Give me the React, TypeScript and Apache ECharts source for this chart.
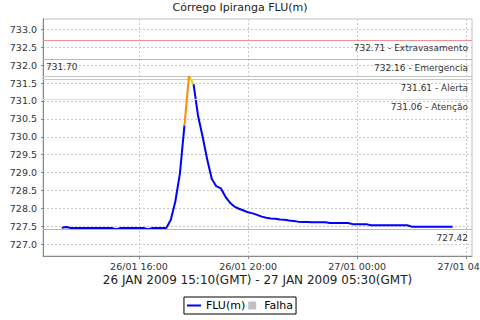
import { useEffect, useRef } from "react";
import * as echarts from "echarts";

// ---- data ----
const startHour = 13 + 10 / 60; // 26/01 13:10 local (15:10 GMT)
const stepHours = 10 / 60;
const fluValues = [
  727.46, 727.48, 727.45, 727.45, 727.45, 727.45, 727.45, 727.45, 727.45, 727.45,
  727.45, 727.45, 727.42, 727.45, 727.45, 727.45, 727.45, 727.45, 727.45, 727.42,
  727.45, 727.45, 727.45, 727.45,
  727.68, 728.2, 728.97, 730.32, 731.7, 731.47, 730.58, 730.0, 729.37, 728.83,
  728.62, 728.56, 728.33, 728.16, 728.05, 727.99, 727.94, 727.89, 727.86, 727.82,
  727.77, 727.74, 727.72, 727.71, 727.69, 727.68, 727.66, 727.65, 727.63,
  727.62, 727.62, 727.61, 727.61, 727.61, 727.61,
  727.59, 727.59, 727.59, 727.59, 727.59,
  727.56, 727.56, 727.56, 727.56,
  727.53, 727.53, 727.53, 727.53, 727.53, 727.53, 727.53, 727.53, 727.53,
  727.49, 727.49, 727.49, 727.49, 727.49, 727.49, 727.49, 727.49, 727.49, 727.49,
];
const thresholdValues = [731.06, 731.61, 732.16, 732.71];
const thresholdNames = ["Atenção", "Alerta", "Emergencia", "Extravasamento"];
const thresholdLineColors = ["#f7e77a", "#f5bf8a", "#ee90ee", "#f09090"];
const levelColors = ["#0000ff", "#f0d000", "#ff8c00", "#e040e0", "#ff0000"];
const xTickHours = [16, 20, 24, 28];
const xTickLabels = ["26/01 16:00", "26/01 20:00", "27/01 00:00", "27/01 04:00"];
const yTickValues = [
  727.0, 727.5, 728.0, 728.5, 729.0, 729.5, 730.0, 730.5, 731.0, 731.5, 732.0, 732.5, 733.0,
];
const titleText = "Córrego Ipiranga FLU(m)";
const periodText = "26 JAN 2009 15:10(GMT) - 27 JAN 2009 05:30(GMT)";
const seriesName = "FLU(m)";
const failName = "Falha";

const FONT = "DejaVu Sans";

function levelOf(v: number) {
  let l = 0;
  for (const t of thresholdValues) if (v >= t) l++;
  return l;
}

export default function App() {
  const ref = useRef<HTMLDivElement>(null);
  useEffect(() => {
    if (!ref.current) return;
    const chart = echarts.init(ref.current, undefined, { renderer: "svg" });
    const xs = fluValues.map((_, i) => startHour + i * stepHours);
    const maxV = Math.max(...fluValues);
    const minV = Math.min(...fluValues);
    // segment levels: colour of segment i->i+1 by its end value
    const segLevel = fluValues.slice(1).map((v) => levelOf(v));
    const levelSeries: any[] = [];
    const levelsPresent = Array.from(new Set(segLevel)).sort();
    levelsPresent.forEach((L) => {
      const data = fluValues.map((v, i) => {
        const inPrev = i > 0 && segLevel[i - 1] === L;
        const inNext = i < segLevel.length && segLevel[i] === L;
        return [xs[i], inPrev || inNext ? v : "-"];
      });
      levelSeries.push({
        name: L === 0 ? seriesName : seriesName + " " + L,
        type: "line",
        data,
        symbol: "none",
        showSymbol: false,
        connectNulls: false,
        color: levelColors[L],
        lineStyle: { width: 2, color: levelColors[L] },
        z: 3 + L,
        animation: false,
        ...(L === 0
          ? {
              markLine: {
                silent: true,
                symbol: ["none", "none"],
                animation: false,
                label: {
                  fontFamily: FONT,
                  fontSize: 9,
                  color: "#333",
                },
                data: [
                  ...thresholdValues.map((t, k) => ({
                    yAxis: t,
                    lineStyle: { color: thresholdLineColors[k], type: "solid", width: 1 },
                    label: {
                      position: "insideEndBottom",
                      distance: [4, 4],
                      formatter: `${t.toFixed(2)} - ${thresholdNames[k]}`,
                    },
                  })),
                  {
                    yAxis: maxV,
                    lineStyle: { color: "#c0c8c0", type: "solid", width: 1 },
                    label: {
                      position: "insideStartTop",
                      distance: [3, 4],
                      formatter: maxV.toFixed(2),
                    },
                  },
                  {
                    yAxis: minV,
                    lineStyle: { color: "#b8b8b8", type: "solid", width: 1 },
                    label: {
                      position: "insideEndBottom",
                      distance: [4, 4],
                      formatter: minV.toFixed(2),
                    },
                  },
                ],
              },
            }
          : {}),
      });
    });

    chart.setOption({
      animation: false,
      backgroundColor: "#ffffff",
      textStyle: { fontFamily: FONT },
      title: {
        text: titleText,
        left: "center",
        top: 2,
        padding: 0,
        textStyle: { fontFamily: FONT, fontSize: 11, fontWeight: "normal", color: "#222" },
      },
      legend: {
        data: [
          { name: seriesName, icon: "path://M0 4H14V6H0Z" },
          { name: failName, icon: "path://M0 0H10V10H0Z" },
        ],
        top: 297,
        left: "center",
        itemWidth: 14,
        itemHeight: 8,
        itemGap: 3,
        padding: [3, 3, 3, 3],
        borderColor: "#000",
        borderWidth: 1,
        borderRadius: 0,
        selectedMode: false,
        textStyle: { fontFamily: FONT, fontSize: 11, color: "#000" },
      },
      grid: {
        left: 43,
        right: 8,
        top: 19,
        bottom: 64,
        show: true,
        borderColor: "#c0c0c0",
        borderWidth: 1,
        backgroundColor: "#ffffff",
        outerBoundsMode: "none",
        containLabel: false,
      },
      xAxis: {
        type: "value",
        min: 12.48,
        max: 28.21,
        name: periodText,
        nameLocation: "middle",
        nameGap: 18,
        nameMoveOverlap: false,
        nameTextStyle: { fontFamily: FONT, fontSize: 12, color: "#222" },
        axisLine: { show: true, lineStyle: { color: "#888", width: 1 } },
        axisTick: { show: true, length: 3, lineStyle: { color: "#888" }, customValues: xTickHours },
        axisLabel: {
          customValues: xTickHours,
          margin: 5,
          fontFamily: FONT,
          fontSize: 9.5,
          color: "#333",
          formatter: (v: number) => {
            const i = xTickHours.indexOf(Math.round(v));
            return i >= 0 ? xTickLabels[i] : "";
          },
        },
        splitLine: { show: true, lineStyle: { color: "#c8c8c8", type: [2, 2], width: 1 } },
      },
      yAxis: {
        type: "value",
        min: 726.67,
        max: 733.29,
        splitNumber: 12,
        axisLine: { show: true, lineStyle: { color: "#888", width: 1 } },
        axisTick: { show: true, length: 2, lineStyle: { color: "#888" }, customValues: yTickValues },
        axisLabel: {
          customValues: yTickValues,
          margin: 6,
          fontFamily: FONT,
          fontSize: 9.5,
          color: "#333",
          formatter: (v: number) => v.toFixed(1),
        },
        splitLine: { show: true, lineStyle: { color: "#c8c8c8", type: [2, 2], width: 1 } },
      },
      series: [
        ...levelSeries,
        {
          name: failName,
          type: "line",
          data: [],
          color: "#c0c0c0",
          itemStyle: { color: "#c0c0c0" },
          lineStyle: { color: "#c0c0c0" },
          symbol: "none",
        },
      ],
    });
    return () => chart.dispose();
  }, []);
  return (
    <div
      ref={ref}
      style={{ position: "fixed", left: 0, top: 0, width: 480, height: 320, background: "#fff" }}
    />
  );
}
